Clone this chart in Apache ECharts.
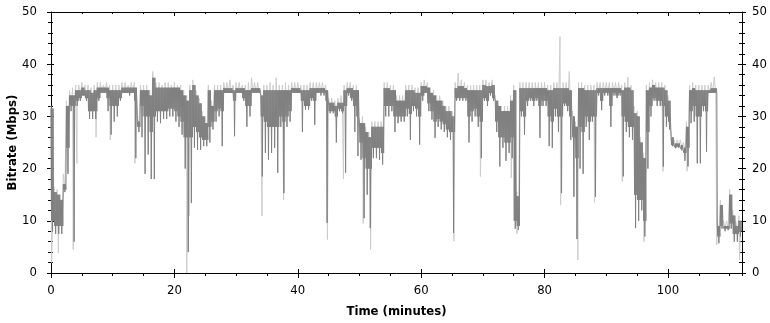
<!DOCTYPE html>
<html>
<head>
<meta charset="utf-8">
<title>Bitrate</title>
<script src="https://cdn.jsdelivr.net/npm/echarts@6/dist/echarts.min.js"></script>
<style>
html, body { margin: 0; padding: 0; background: #fff; }
#chart { width: 770px; height: 323px; }
</style>
</head>
<body>
<div id="chart"></div>
<script>
// bitrate trace, per half minute
const STEP = 0.5;

// dark trace: band top at each half minute
const darkHigh = [
    31.5, 15.5, 15, 14, 17, 32, 34, 34, 35, 35,
    35.5, 35, 35, 34.5, 35, 35.5, 35.5, 35.5, 35.5, 35,
    35, 35, 35, 35.5, 35.5, 35.5, 35.5, 35.5, 29, 35,
    35, 35, 34, 37.4, 35.5, 35.5, 35.5, 35.5, 35.5, 35.5,
    35.5, 35.5, 35, 34, 33, 35, 36, 34, 32.5, 30,
    28.7, 35, 32, 35, 35, 35, 35.4, 35.4, 35.4, 35,
    35.4, 35.4, 35.4, 35, 35, 35.4, 35.4, 35.4, 34, 35,
    35, 35, 35, 35, 35, 35, 35, 35, 35.4, 35.4,
    35.4, 35, 35, 35, 35.4, 35.4, 35.4, 35.4, 35.4, 35,
    32.6, 32.6, 32, 32.6, 32.6, 35, 35.4, 35.4, 35, 35,
    28.7, 28.7, 27, 26, 28, 28, 28, 28, 35.4, 35.4,
    35, 35, 33, 33, 33, 35, 35, 35, 34.5, 34.5,
    35.8, 35.8, 35.5, 34.5, 34, 33, 33, 32, 31, 31,
    30, 35.4, 35.8, 35.8, 35.4, 35, 35, 35, 35, 35,
    36, 35.8, 35.8, 36, 33, 32, 31, 31, 31, 33,
    35, 14.7, 35.4, 35.4, 35.4, 35.4, 35.4, 35.4, 35.4, 35.4,
    35.4, 35, 35, 35.4, 35.4, 35.4, 35.4, 35.4, 35, 30,
    28, 35.4, 35.4, 35, 35, 35, 35, 35.4, 35.4, 35.4,
    35.4, 35.4, 35.4, 35.4, 35.4, 35, 35.5, 35.5, 35, 30.6,
    30, 25, 22, 35, 35.5, 36, 35.5, 35.5, 35.5, 35,
    33, 26, 24.8, 24.8, 24.5, 24, 28, 35, 35.4, 35,
    35, 35, 35, 35, 35.4, 35.4, 9, 13, 9, 9,
    15, 11, 9, 10
];

// dark trace: bottom of the solid part of the band
const darkBase = [
    10, 9, 9, 9, 16, 24, 32, 32, 33, 33.5,
    34, 33.5, 31, 31, 31, 33.5, 34.5, 34.5, 33.5, 32,
    32, 32, 33.5, 34.5, 34.5, 34.5, 34.5, 33, 28, 32,
    30, 30, 27, 30, 31, 31, 31, 31, 31.5, 31.5,
    31, 30, 29, 26, 26, 26, 28, 27, 26, 25.5,
    25.5, 28, 29, 31, 31.5, 31, 34.5, 34.5, 34.5, 33,
    34.5, 34.5, 33.5, 32, 32, 34.5, 34.5, 34.5, 30, 29,
    28, 28, 28, 28, 30, 29, 30, 31, 34.5, 34.5,
    34.5, 33, 32, 32, 33.5, 33, 34.5, 34.5, 34.5, 33,
    31, 31, 30, 31.5, 31, 32, 34.5, 33.5, 32, 30,
    25, 22, 20, 20, 24, 24, 24, 23, 32, 32,
    32, 30, 30, 30, 30, 31.5, 30.5, 32, 31.5, 30,
    34, 34.5, 32.5, 31, 29, 29.5, 29, 28.5, 27.5, 27,
    27, 33.5, 33.5, 33.5, 33.5, 30, 31, 31.5, 30, 29,
    33.5, 33, 34.5, 33.5, 29, 26, 26, 25, 25, 26,
    10, 9, 31, 30, 33, 33.5, 33, 33.5, 32, 33,
    33, 30, 29, 31.5, 30, 30, 32.5, 32, 30, 26,
    22, 28, 27, 30, 29, 30, 30, 34.5, 33, 34.5,
    34.5, 32, 34.5, 34, 34.5, 30, 29, 28, 28, 15,
    14, 14, 10, 27, 32, 33.5, 33, 33, 32, 30,
    29, 24.5, 24.1, 24.2, 23.8, 23, 24, 31, 32, 30,
    30, 32, 31, 34.5, 34.5, 34.5, 7, 9, 8.5, 8.5,
    9.5, 7.5, 7.5, 8
];

// dark trace: deepest drop in each half minute
const darkLow = [
    8, 7.5, 7.5, 7.5, 15.5, 19, 31, 6, 32, 33,
    34, 33, 29.5, 29.5, 29.5, 33, 34.5, 34.5, 31, 26.5,
    29, 30, 33, 34.5, 34.5, 34, 34.5, 22, 27, 26,
    19, 22.7, 18, 18, 29, 28.7, 29.5, 29.5, 30, 30,
    29, 28, 26.5, 20, 4, 13.4, 24, 23.6, 23.6, 24.3,
    24.3, 25, 27.5, 29, 30, 24.3, 34.5, 34.5, 34.5, 26.2,
    34.5, 34.5, 33, 28, 30, 34.5, 34.5, 34.5, 18.5, 23,
    21.7, 23, 24, 19.2, 28, 15.3, 28, 29, 34.5, 34.5,
    34.5, 27, 31.3, 31.3, 33, 28.4, 34.5, 34, 34, 9.6,
    30.6, 30.6, 25, 31, 30.6, 19.2, 34, 33, 27, 22.4,
    21.7, 10.5, 15, 8.6, 22, 22, 21.7, 20.8, 30, 30,
    31, 27, 28.7, 29, 29, 30, 25.5, 31, 30, 24.6,
    33, 34.5, 31, 29.4, 25.9, 28, 27.5, 27, 26, 25.5,
    7.7, 33, 33, 33, 33, 25, 29, 30, 28, 22,
    33, 32, 34, 33, 27, 20.4, 24, 21.5, 23, 22,
    8.5, 8.3, 30, 26.5, 32, 33, 32, 33, 25.9, 32,
    32, 24.3, 24, 30, 27, 15.3, 32, 31, 25.5, 14.6,
    6.5, 20, 19, 28, 25.5, 29, 14.6, 34, 31.2, 34,
    34, 28, 34, 33.5, 34, 18.5, 27, 26, 25.5, 8.6,
    10, 12, 7, 20, 30, 33, 32, 32, 20.4, 28,
    27.5, 24.3, 23.9, 24, 23.5, 21.5, 20.4, 28.7, 29, 21,
    21, 31, 23.2, 34.5, 34.5, 34.5, 5.7, 8.5, 8, 8.2,
    8.5, 6, 6, 7
];

// light trace: top of the pale halo at each half minute
const lightHigh = [
    32, 16.5, 16, 15, 19, 33, 35, 35.5, 36, 36,
    36.5, 36, 36, 35.5, 36, 36.5, 36.5, 36, 36.5, 36,
    36, 36, 36, 36.5, 36.5, 36, 36.5, 36.5, 30, 36,
    36, 36, 35, 38.6, 36.5, 36.5, 36, 36.5, 36.5, 36,
    36.5, 36, 36, 35, 34, 36, 37, 35, 33.5, 31,
    30, 36, 33, 36, 36, 36, 36.5, 36.5, 37, 36,
    36.5, 36.5, 36, 36, 36.5, 37.4, 36.5, 36.5, 35, 36,
    36, 36.5, 36, 37.4, 36, 36, 36.5, 36, 36.5, 36.5,
    36.5, 36, 36, 36, 36.5, 36.5, 36.5, 36.5, 36.5, 36,
    33.5, 33.5, 33, 33.5, 34, 36, 36.5, 36.5, 36, 36,
    30, 30, 28, 27, 29, 29, 29, 29, 36.5, 36.5,
    36, 36, 34, 34, 34, 36, 36, 36, 35.5, 35.5,
    36.5, 37, 36.5, 35.5, 35, 34, 34, 33, 32, 32,
    31, 36.5, 38.3, 37, 36.5, 36, 36, 36, 36, 36,
    37, 37, 36.5, 37, 34, 33, 32, 32, 32, 34,
    36, 15.5, 36.5, 36.5, 36.5, 36.5, 36.5, 36.5, 36.5, 36.5,
    36.5, 36, 36, 36.5, 36.5, 45.3, 36.5, 36.5, 38.6, 31,
    29, 36.5, 36.5, 36, 36, 36, 36, 36.5, 36.5, 36.5,
    36.5, 36.5, 36.5, 36.5, 36.5, 36, 36.5, 37.5, 36, 32,
    31, 26, 23, 36, 36.5, 37, 36.5, 36.5, 36.5, 36,
    34, 27, 25.5, 25.5, 25.5, 25, 29, 36, 36.5, 36,
    36, 36, 36, 36, 36.5, 37.6, 10, 14, 10, 10,
    16, 12, 10, 11
];

// light trace: drops that go below the dark trace [minute, Mbps]
const lightDips = [
    [0.1, 2], [1.2, 3.8], [3.6, 4.5], [4.2, 21], [7.3, 26], [9.6, 25.5],
    [13.6, 21], [22.0, 0], [22.4, 11], [34.2, 10.9], [37.7, 14], [44.8, 6.4],
    [47.4, 18], [50.6, 9.5], [51.8, 4.5], [65.3, 6.1], [69.6, 18.5], [74.6, 18.2],
    [75.5, 7.5], [82.6, 13], [85.4, 2.5], [88.1, 13.5], [92.6, 17.5], [96.1, 6],
    [99.2, 19.5], [103.1, 19.5], [107.9, 5.4], [111.6, 2.5]
];

const timeRange = [0, 112];
const rateRange = [0, 50];

const FONT = '"Liberation Sans Narrow", "Arial Narrow", "DejaVu Sans Condensed", sans-serif';
const BLACK = { color: '#000', width: 1 };

// the trace flickers inside its band: walk top/bottom at sub-pixel spacing,
// with the half minute's deepest drop in the middle
function darkPath() {
    const pts = [];
    const d = STEP / 6;
    darkHigh.forEach((h, i) => {
        const t = i * STEP;
        pts.push([t, h]);
        pts.push([t + d, darkBase[i]]);
        pts.push([t + 2 * d, h]);
        pts.push([t + 3 * d, darkLow[i]]);
        pts.push([t + 4 * d, h]);
        pts.push([t + 5 * d, darkBase[i]]);
    });
    return pts;
}

function lightPath() {
    const pts = [];
    lightHigh.forEach((h, i) => {
        pts.push([i * STEP, h]);
        pts.push([i * STEP + STEP / 2, darkBase[i]]);
    });
    return pts.concat(lightDips).sort((a, b) => a[0] - b[0]);
}

function xAx(gridIndex, position, interval, tick, extra) {
    return Object.assign({
        type: 'value', gridIndex, position,
        min: timeRange[0], max: timeRange[1], interval,
        axisLine: { show: false, onZero: false, lineStyle: BLACK },
        axisTick: Object.assign({ lineStyle: BLACK }, tick),
        axisLabel: { show: false },
        splitLine: { show: false }
    }, extra || {});
}

function yAx(gridIndex, position, tick, minor, extra) {
    return Object.assign({
        type: 'value', gridIndex, position,
        min: rateRange[0], max: rateRange[1], interval: 10,
        axisLine: { show: false, onZero: false, lineStyle: BLACK },
        axisTick: Object.assign({ lineStyle: BLACK }, tick),
        minorTick: Object.assign({ show: true, splitNumber: 5, lineStyle: BLACK }, minor),
        axisLabel: { show: false },
        splitLine: { show: false }
    }, extra || {});
}

const labelStyle = { color: '#000', fontSize: 13, fontFamily: FONT };
const nameStyle = { color: '#000', fontSize: 13, fontWeight: 'bold', fontFamily: FONT };
const gridBox = { left: 51, right: 28, top: 12, bottom: 50, containLabel: false, outerBoundsMode: 'none' };

const chart = echarts.init(document.getElementById('chart'), null, { renderer: 'canvas' });

chart.setOption({
    animation: false,
    backgroundColor: '#fff',
    grid: [0, 1, 2].map(() => Object.assign({}, gridBox)),
    xAxis: [
        xAx(0, 'bottom', 20, { length: 5 }, {
            axisLine: { show: true, onZero: false, lineStyle: BLACK },
            axisLabel: Object.assign({ show: true, showMaxLabel: false, margin: 11 }, labelStyle),
            name: 'Time (minutes)', nameLocation: 'middle', nameGap: 32, nameTextStyle: nameStyle
        }),
        xAx(0, 'top', 5, { inside: true, length: 2 }, {
            axisLine: { show: true, onZero: false, lineStyle: BLACK }
        }),
        xAx(1, 'bottom', 20, { inside: true, length: 4 }),
        xAx(1, 'top', 20, { inside: true, length: 4 }),
        xAx(2, 'bottom', 5, { length: 3 }),
        xAx(2, 'top', 5, { show: false })
    ],
    yAxis: [
        yAx(0, 'left', { length: 4 }, { length: 3 }, {
            axisLine: { show: true, onZero: false, lineStyle: BLACK },
            axisLabel: Object.assign({ show: true, margin: 14 }, labelStyle),
            name: 'Bitrate (Mbps)', nameLocation: 'middle', nameRotate: 90, nameGap: 32,
            nameMoveOverlap: false, nameTextStyle: nameStyle
        }),
        yAx(0, 'right', { length: 4 }, { length: 3 }, {
            axisLine: { show: true, onZero: false, lineStyle: BLACK },
            axisLabel: Object.assign({ show: true, margin: 10 }, labelStyle)
        }),
        yAx(1, 'left', { inside: true, length: 3 }, { length: 2 }),
        yAx(1, 'right', { inside: true, length: 4 }, { length: 3 }),
        yAx(2, 'left', { show: false }, { show: false }),
        yAx(2, 'right', { show: false }, { show: false })
    ],
    series: [
        {
            name: 'peak', type: 'line', xAxisIndex: 0, yAxisIndex: 0,
            data: lightPath(), showSymbol: false, silent: true,
            lineStyle: { color: '#cccccc', width: 1 }
        },
        {
            name: 'bitrate', type: 'line', xAxisIndex: 0, yAxisIndex: 0,
            data: darkPath(), showSymbol: false, silent: true,
            lineStyle: { color: '#808080', width: 1 }
        }
    ]
});
</script>
</body>
</html>
